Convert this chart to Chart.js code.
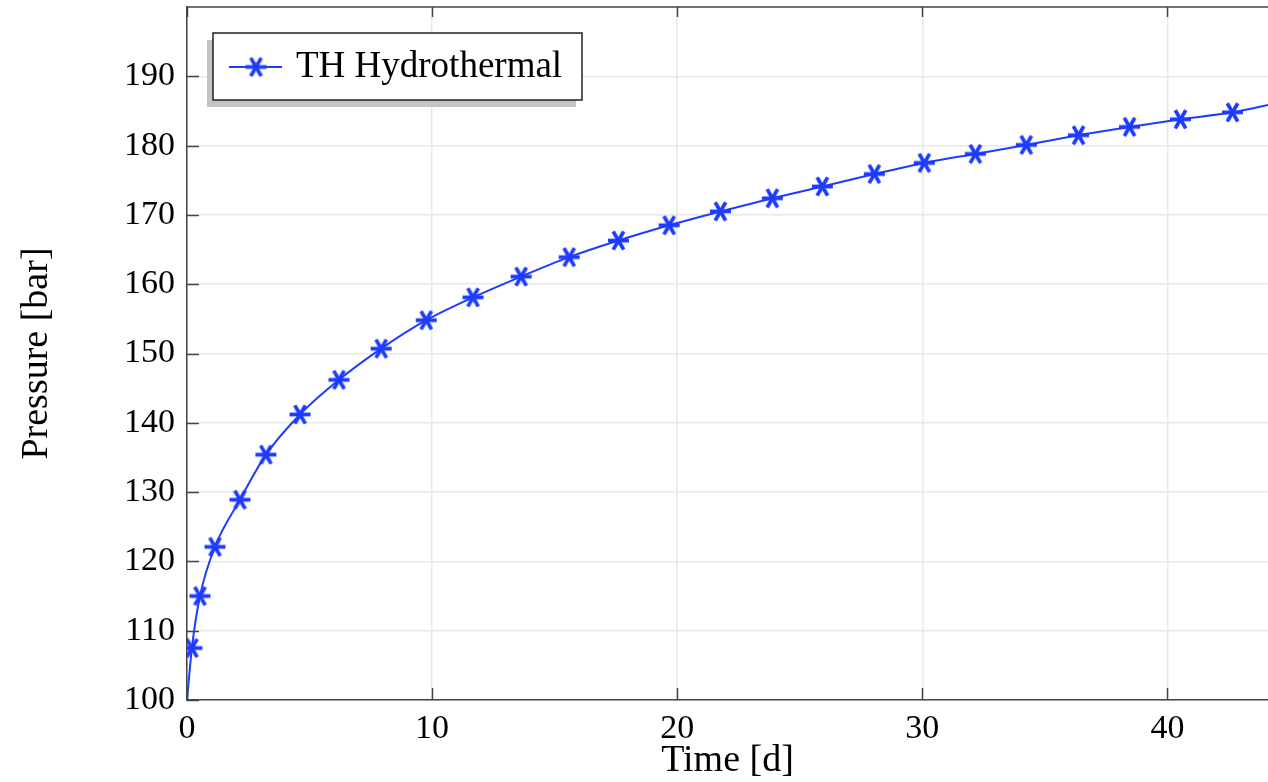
<!DOCTYPE html>
<html>
<head>
<meta charset="utf-8">
<title>TH Hydrothermal - Pressure</title>
<script src="https://cdn.jsdelivr.net/npm/chart.js"></script>
<style>
  html, body { margin: 0; padding: 0; background: #fff; overflow: hidden; }
  canvas { display: block; }
</style>
</head>
<body>
<canvas id="pressureChart" width="1268" height="782"></canvas>
<script>
// time [d] and pressure [bar] (first and last points carry no marker)
const timeDays = [0, 0.2, 0.53, 1.14, 2.16, 3.22, 4.61, 6.2, 7.92, 9.76, 11.67, 13.63, 15.59, 17.6,
  19.67, 21.76, 23.88, 25.92, 28.04, 30.08, 32.16, 34.24, 36.37, 38.45, 40.53, 42.65, 44.4];
const pressureBar = [100, 107.5, 115.0, 122.1, 128.9, 135.4, 141.2, 146.2, 150.7, 154.8, 158.1, 161.1, 163.9, 166.3,
  168.5, 170.5, 172.4, 174.1, 175.9, 177.5, 178.8, 180.1, 181.5, 182.7, 183.8, 184.8, 186.1];
const xTicks = [0, 10, 20, 30, 40];
const yTicks = [100, 110, 120, 130, 140, 150, 160, 170, 180, 190];
const seriesLabel = 'TH Hydrothermal';

const BLUE = 'rgb(30, 60, 255)';
const FRAME = '#444';
const FONT = '"Liberation Serif", "Times New Roman", serif';

// six-armed asterisk marker
function makeAsterisk(r, lw) {
  const c = document.createElement('canvas');
  const s = Math.ceil(2 * r + lw + 2);
  c.width = s; c.height = s;
  const g = c.getContext('2d');
  g.strokeStyle = BLUE;
  g.lineWidth = lw;
  g.lineCap = 'butt';
  for (const a of [0, Math.PI / 3, 2 * Math.PI / 3]) {
    g.beginPath();
    g.moveTo(s / 2 - r * Math.cos(a), s / 2 - r * Math.sin(a));
    g.lineTo(s / 2 + r * Math.cos(a), s / 2 + r * Math.sin(a));
    g.stroke();
  }
  return c;
}
const asterisk = makeAsterisk(10.5, 3.8);

const points = timeDays.map((t, i) => ({ x: t, y: pressureBar[i] }));
const lastIdx = points.length - 1;

const framePlugin = {
  id: 'frame',
  afterDraw(chart) {
    const { ctx, chartArea: a, scales } = chart;
    ctx.save();
    ctx.strokeStyle = FRAME;
    ctx.lineWidth = 1.5;
    // top border
    ctx.beginPath();
    ctx.moveTo(a.left, a.top);
    ctx.lineTo(a.right, a.top);
    ctx.stroke();
    // inward ticks
    ctx.beginPath();
    for (const v of yTicks) {
      const y = Math.round(scales.y.getPixelForValue(v)) + 0.5;
      ctx.moveTo(a.left, y);
      ctx.lineTo(a.left + 12, y);
    }
    for (const v of xTicks) {
      const x = Math.round(scales.x.getPixelForValue(v)) + 0.5;
      ctx.moveTo(x, a.bottom);
      ctx.lineTo(x, a.bottom - 12);
      ctx.moveTo(x, a.top);
      ctx.lineTo(x, a.top + 10);
    }
    ctx.stroke();

    // legend box with shadow
    const bx = 213, by = 33, bw = 369, bh = 67;
    ctx.fillStyle = '#c4c4c4';
    ctx.fillRect(bx - 6, by + 7, bw, bh);
    ctx.fillStyle = '#fff';
    ctx.fillRect(bx, by, bw, bh);
    ctx.strokeStyle = '#222';
    ctx.lineWidth = 1.5;
    ctx.strokeRect(bx, by, bw, bh);
    const ly = by + 34;
    ctx.strokeStyle = BLUE;
    ctx.lineWidth = 2;
    ctx.beginPath();
    ctx.moveTo(bx + 16, ly);
    ctx.lineTo(bx + 69, ly);
    ctx.stroke();
    ctx.drawImage(asterisk, bx + 43 - asterisk.width / 2, ly - asterisk.height / 2);
    ctx.fillStyle = '#000';
    ctx.font = '37px ' + FONT;
    ctx.textBaseline = 'middle';
    ctx.fillText(seriesLabel, bx + 83, ly);
    ctx.restore();
  }
};

new Chart(document.getElementById('pressureChart'), {
  type: 'line',
  data: {
    datasets: [{
      label: seriesLabel,
      data: points,
      borderColor: BLUE,
      backgroundColor: BLUE,
      borderWidth: 2,
      cubicInterpolationMode: 'monotone',
      pointStyle: asterisk,
      pointRadius: (c) => (c.dataIndex === 0 || c.dataIndex === lastIdx ? 0 : 10),
      pointHoverRadius: 10,
      fill: false,
    }]
  },
  options: {
    responsive: false,
    animation: false,
    layout: { padding: { top: 7, right: 0, left: 0, bottom: 0 } },
    plugins: { legend: { display: false }, tooltip: { enabled: false } },
    scales: {
      x: {
        type: 'linear',
        min: 0,
        max: 44.1,
        afterFit(s) { s.height = 82; s.paddingLeft = 0; s.paddingRight = 0; },
        afterBuildTicks(s) { s.ticks = xTicks.map((v) => ({ value: v })); },
        ticks: { padding: 9, color: '#000', font: { family: FONT, size: 34 }, maxRotation: 0 },
        grid: { color: '#e8e8e8', lineWidth: 1.5, drawTicks: false },
        border: { color: FRAME, width: 1.5 },
        title: { display: true, text: 'Time [d]', color: '#000',
          font: { family: FONT, size: 38, lineHeight: 1 }, padding: { top: 0, bottom: 2 } }
      },
      y: {
        min: 100,
        max: 200,
        afterFit(s) { s.width = 187; s.paddingTop = 0; s.paddingBottom = 0; },
        afterBuildTicks(s) { s.ticks = yTicks.map((v) => ({ value: v })); },
        ticks: { padding: 12, color: '#000', font: { family: FONT, size: 34 } },
        grid: { color: '#e8e8e8', lineWidth: 1.5, drawTicks: false },
        border: { color: FRAME, width: 1.5 },
        title: { display: true, text: 'Pressure [bar]', color: '#000',
          font: { family: FONT, size: 38, lineHeight: 1 }, padding: { top: 18, bottom: 0 } }
      }
    }
  },
  plugins: [framePlugin]
});
</script>
</body>
</html>
